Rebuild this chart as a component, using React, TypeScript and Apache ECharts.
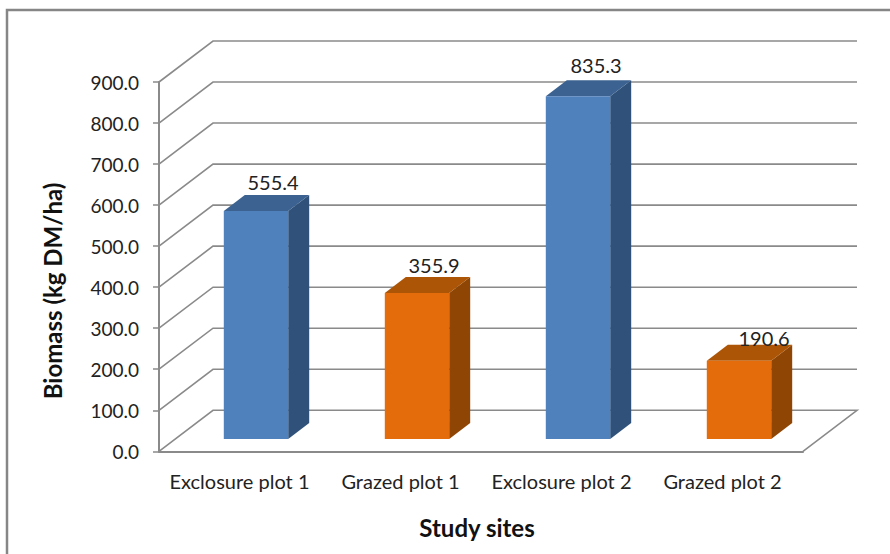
import React, { useEffect, useRef } from "react";
import * as echarts from "echarts";

const categories = ["Exclosure plot 1", "Grazed plot 1", "Exclosure plot 2", "Grazed plot 2"];
const biomass = [555.4, 355.9, 835.3, 190.6];
const yTicks = [0, 100, 200, 300, 400, 500, 600, 700, 800, 900];
const yTitle = "Biomass (kg DM/ha)";
const xTitle = "Study sites";

const FONT = "Lato, sans-serif";
const GREY = "#8a8a8a";
const WALL_DX = 54;
const WALL_DY = -41;
const BAR_SHIFT_X = 16.5;
const BAR_SHIFT_Y = -12.3;
const BAR_DX = 21;
const BAR_DY = -16;
const BAR_RATIO = 0.4;
const PALETTE = [
  { front: "#4f81bd", side: "#30527a", top: "#3b6290" },
  { front: "#e46c0a", side: "#8f4605", top: "#ad5507" },
];
const LABEL_NUDGE = [
  [17, -13],
  [17, -12],
  [18, -15],
  [25, -7],
];

export default function App() {
  const ref = useRef<HTMLDivElement>(null);
  useEffect(() => {
    document.body.style.margin = "0";
    const chart = echarts.init(ref.current!, undefined, { renderer: "svg" });
    chart.setOption({
      animation: false,
      backgroundColor: "#ffffff",
      grid: { left: 159, right: 87, top: 82, bottom: 102.7 },
      graphic: [
        {
          type: "rect",
          shape: { x: 7, y: 10, width: 900, height: 560 },
          style: { fill: "none", stroke: "#868686", lineWidth: 2.5 },
          silent: true,
        },
        {
          type: "text",
          x: 52,
          y: 291,
          rotation: Math.PI / 2,
          style: {
            text: yTitle,
            font: `bold 24px ${FONT}`,
            fill: "#111111",
            textAlign: "center",
            textVerticalAlign: "middle",
          },
        },
        {
          type: "text",
          x: 477,
          y: 527,
          style: {
            text: xTitle,
            font: `bold 24px ${FONT}`,
            fill: "#111111",
            textAlign: "center",
            textVerticalAlign: "middle",
          },
        },
      ],
      xAxis: {
        type: "category",
        data: categories,
        axisTick: { show: false },
        axisLine: { lineStyle: { color: GREY, width: 2 } },
        axisLabel: { color: "#222222", fontFamily: FONT, fontSize: 20, margin: 20, interval: 0 },
        splitLine: { show: false },
      },
      yAxis: {
        type: "value",
        min: 0,
        max: 900,
        interval: 100,
        axisLine: { show: true, lineStyle: { color: GREY, width: 2 } },
        axisTick: { show: true, length: 6, lineStyle: { color: GREY, width: 1.5 } },
        splitLine: { show: false },
        axisLabel: {
          color: "#222222",
          fontFamily: FONT,
          fontSize: 19,
          margin: 20,
          formatter: (v: number) => v.toFixed(1),
        },
      },
      series: [
        {
          type: "custom",
          data: yTicks.map((t) => [0, t]),
          silent: true,
          z: 1,
          renderItem: (_p: any, api: any) => {
            const band = api.size([1, 0])[0];
            const c = api.coord([0, api.value(1)]);
            const left = c[0] - band / 2;
            const right = left + band * categories.length;
            const y = c[1];
            const points = [
              [left, y],
              [left + WALL_DX, y + WALL_DY],
              [right + WALL_DX, y + WALL_DY],
            ];
            if (api.value(1) === 0) points.push([right, y]);
            return {
              type: "polyline",
              shape: { points },
              style: { fill: "none", stroke: GREY, lineWidth: 1.6 },
            };
          },
        },
        {
          type: "custom",
          data: biomass.map((v, i) => [i, v]),
          z: 2,
          renderItem: (_p: any, api: any) => {
            const i = api.value(0);
            const band = api.size([1, 0])[0];
            const top = api.coord([i, api.value(1)]);
            const base = api.coord([i, 0]);
            const w = band * BAR_RATIO;
            const x0 = top[0] - w / 2 + BAR_SHIFT_X;
            const x1 = x0 + w;
            const yT = top[1] + BAR_SHIFT_Y;
            const yB = base[1] + BAR_SHIFT_Y;
            const col = PALETTE[i % 2];
            const nudge = LABEL_NUDGE[i];
            return {
              type: "group",
              children: [
                {
                  type: "polygon",
                  shape: { points: [[x1, yT], [x1 + BAR_DX, yT + BAR_DY], [x1 + BAR_DX, yB + BAR_DY], [x1, yB]] },
                  style: { fill: col.side },
                },
                {
                  type: "polygon",
                  shape: { points: [[x0, yT], [x0 + BAR_DX, yT + BAR_DY], [x1 + BAR_DX, yT + BAR_DY], [x1, yT]] },
                  style: { fill: col.top },
                },
                {
                  type: "rect",
                  shape: { x: x0, y: yT, width: w, height: yB - yT },
                  style: { fill: col.front },
                },
                {
                  type: "text",
                  x: (x0 + x1) / 2 + nudge[0],
                  y: yT + BAR_DY + nudge[1],
                  style: {
                    text: api.value(1).toFixed(1),
                    font: `20px ${FONT}`,
                    fill: "#222222",
                    textAlign: "center",
                    textVerticalAlign: "middle",
                  },
                },
              ],
            };
          },
        },
      ],
    });
    return () => chart.dispose();
  }, []);
  return <div ref={ref} style={{ width: 890, height: 554, overflow: "hidden" }} />;
}
